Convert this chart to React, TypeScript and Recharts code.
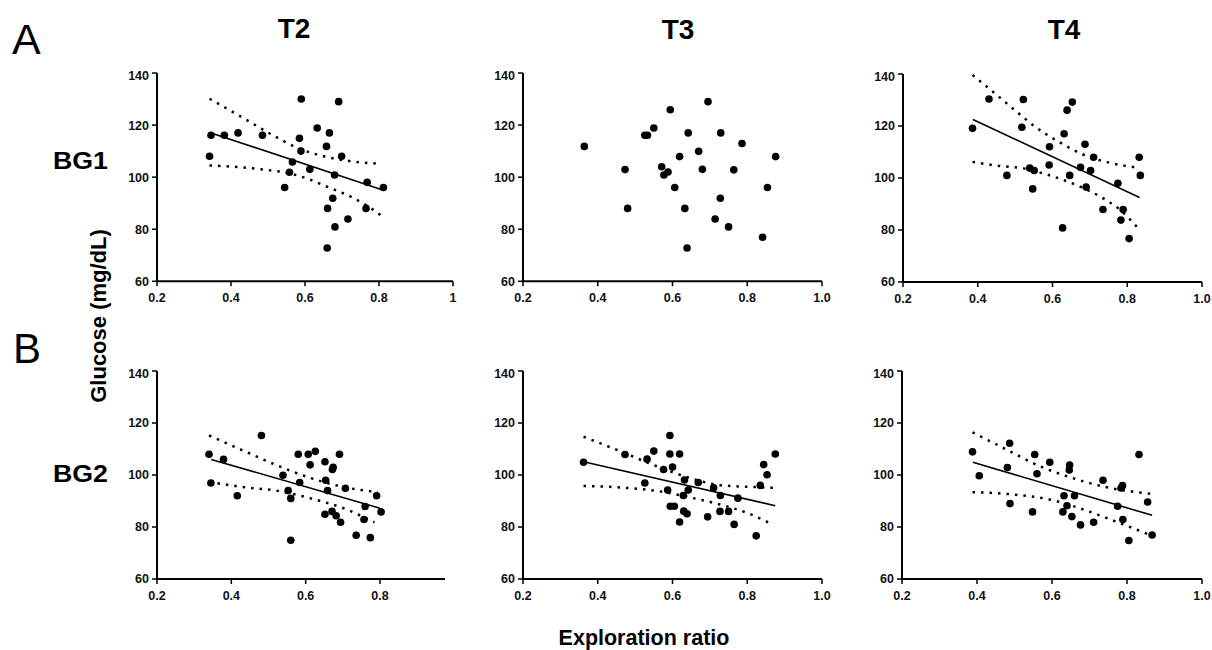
import { ComposedChart, Scatter, Line, XAxis, YAxis } from 'recharts';

type XY = [number, number];

// ---- T2 / BG1 ----
const t2bg1Points: XY[] = [
  [0.342, 108], [0.346, 116.1], [0.382, 116.1], [0.419, 117], [0.485, 116.1],
  [0.545, 96], [0.558, 101.9], [0.566, 105.8], [0.585, 114.9], [0.589, 110],
  [0.59, 130], [0.613, 103], [0.633, 118.9], [0.658, 111.8], [0.666, 117],
  [0.66, 72.8], [0.661, 88], [0.675, 91.9], [0.68, 100.8], [0.681, 80.9],
  [0.691, 129], [0.699, 108], [0.716, 83.9], [0.765, 88], [0.768, 98], [0.812, 96],
];
const t2bg1Fit: XY[] = [[0.346, 117.0], [0.808, 95.2]];
const t2bg1Upper: XY[] = [
  [0.342, 130.1], [0.425, 123.4], [0.512, 116.2], [0.58, 111.2], [0.651, 108.0], [0.725, 106.1], [0.794, 105.2],
];
const t2bg1Lower: XY[] = [
  [0.342, 104.5], [0.416, 103.9], [0.489, 102.9], [0.553, 101.6], [0.607, 99.4], [0.662, 96.2], [0.725, 92.4], [0.78, 87.9], [0.805, 85.3],
];

// ---- T3 / BG1 (no fit drawn) ----
const t3bg1Points: XY[] = [
  [0.364, 111.8], [0.473, 102.9], [0.48, 88], [0.526, 116.1], [0.533, 116.1],
  [0.55, 118.9], [0.571, 104], [0.577, 100.8], [0.588, 102], [0.594, 125.9],
  [0.606, 96], [0.619, 107.9], [0.633, 88], [0.639, 72.8], [0.642, 117],
  [0.67, 109.9], [0.68, 103], [0.695, 129], [0.714, 83.9], [0.728, 91.9],
  [0.729, 117], [0.75, 80.9], [0.764, 102.8], [0.786, 112.9], [0.841, 76.9],
  [0.854, 96], [0.876, 107.9],
];

// ---- T4 / BG1 ----
const t4bg1Points: XY[] = [
  [0.386, 119.1], [0.43, 130.4], [0.478, 101], [0.518, 119.5], [0.522, 130.2],
  [0.539, 103.8], [0.547, 95.8], [0.551, 102.9], [0.591, 105], [0.592, 112],
  [0.627, 80.8], [0.631, 117], [0.639, 126.1], [0.646, 101], [0.653, 129.2],
  [0.675, 104.1], [0.687, 113], [0.69, 96.5], [0.702, 102.9], [0.71, 108],
  [0.735, 87.9], [0.775, 98], [0.783, 83.8], [0.789, 87.9], [0.805, 76.7],
  [0.832, 108], [0.835, 101],
];
const t4bg1Fit: XY[] = [[0.387, 122.5], [0.833, 92.5]];
const t4bg1Upper: XY[] = [
  [0.386, 139.6], [0.443, 132.9], [0.499, 126.1], [0.554, 119.7], [0.617, 113.9], [0.679, 109.2], [0.746, 106.1], [0.822, 104.1],
];
const t4bg1Lower: XY[] = [
  [0.386, 106.2], [0.46, 104.6], [0.523, 103.7], [0.576, 101.7], [0.626, 99.4], [0.675, 96.6], [0.728, 92.8], [0.782, 87.6], [0.826, 81.2],
];

// ---- T2 / BG2 ----
const t2bg2Points: XY[] = [
  [0.34, 108], [0.345, 96.9], [0.379, 106], [0.416, 92], [0.481, 115.2],
  [0.539, 99.9], [0.553, 94], [0.56, 91], [0.56, 74.9], [0.584, 97.1],
  [0.58, 108], [0.607, 108], [0.612, 103.9], [0.626, 109.1], [0.652, 105.1],
  [0.654, 98], [0.674, 103], [0.672, 102.1], [0.691, 108], [0.659, 94],
  [0.652, 84.9], [0.671, 86], [0.682, 84.3], [0.694, 81.8], [0.707, 94.9],
  [0.736, 76.8], [0.76, 87.9], [0.757, 82.9], [0.774, 75.9], [0.791, 92], [0.803, 85.8],
];
const t2bg2Fit: XY[] = [[0.346, 106.0], [0.8, 87.2]];
const t2bg2Upper: XY[] = [
  [0.34, 115.2], [0.427, 109.7], [0.516, 104.1], [0.606, 99.2], [0.695, 95.6], [0.794, 93.4],
];
const t2bg2Lower: XY[] = [
  [0.34, 97.3], [0.436, 95.3], [0.525, 93.9], [0.619, 90.8], [0.713, 86.6], [0.785, 81.8],
];

// ---- T3 / BG2 ----
const t3bg2Points: XY[] = [
  [0.362, 104.9], [0.473, 107.9], [0.526, 96.9], [0.532, 106.1], [0.55, 109.2],
  [0.576, 102.1], [0.6, 103.1], [0.593, 108.1], [0.593, 115.2], [0.619, 108.1],
  [0.587, 94.2], [0.594, 88], [0.605, 88], [0.619, 81.9], [0.632, 98.1],
  [0.629, 92.1], [0.63, 86.1], [0.639, 85.1], [0.642, 94.2], [0.669, 97.1],
  [0.694, 83.9], [0.71, 95.1], [0.728, 92.1], [0.727, 86], [0.75, 86],
  [0.765, 81], [0.775, 91.1], [0.824, 76.6], [0.835, 96], [0.844, 104],
  [0.853, 100.1], [0.875, 108.1],
];
const t3bg2Fit: XY[] = [[0.362, 105.1], [0.875, 88.2]];
const t3bg2Upper: XY[] = [
  [0.362, 114.7], [0.454, 109.5], [0.543, 104.2], [0.637, 99.3], [0.726, 96.1], [0.798, 95.5], [0.869, 95.1],
];
const t3bg2Lower: XY[] = [
  [0.362, 95.8], [0.459, 95.2], [0.566, 93.7], [0.646, 91.4], [0.726, 88.7], [0.807, 85.0], [0.856, 81.8],
];

// ---- T4 / BG2 ----
const t4bg2Points: XY[] = [
  [0.388, 108.9], [0.406, 99.7], [0.481, 102.9], [0.487, 112.2], [0.488, 89],
  [0.548, 85.8], [0.554, 107.9], [0.56, 100.5], [0.594, 104.9], [0.629, 85.8],
  [0.632, 92], [0.64, 88.2], [0.647, 103.8], [0.646, 101.9], [0.66, 92],
  [0.653, 84], [0.676, 80.8], [0.711, 81.8], [0.736, 98], [0.775, 88],
  [0.784, 95], [0.788, 95.9], [0.789, 82.9], [0.805, 74.8], [0.832, 107.9],
  [0.855, 89.6], [0.867, 76.9],
];
const t4bg2Fit: XY[] = [[0.389, 104.9], [0.867, 84.5]];
const t4bg2Upper: XY[] = [
  [0.388, 116.4], [0.476, 110.0], [0.564, 103.6], [0.653, 98.9], [0.742, 95.4], [0.862, 92.8],
];
const t4bg2Lower: XY[] = [
  [0.388, 93.4], [0.489, 92.6], [0.596, 90.5], [0.676, 87.1], [0.756, 82.9], [0.862, 76.9],
];

const yTicks = [60, 80, 100, 120, 140];
const xTicksFull = [0.2, 0.4, 0.6, 0.8, 1.0];
const xTicksShort = [0.2, 0.4, 0.6, 0.8];

const FONT = '"Liberation Sans", Arial, Helvetica, sans-serif';
const toObj = (arr: XY[]) => arr.map(([x, y]) => ({ x, y }));

const Dot = (p: any) => <circle cx={p.cx} cy={p.cy} r={3.8} fill="#000" />;

interface PanelProps {
  left: number;
  top: number;
  w: number;
  h: number;
  xMax: number;
  xTicks: number[];
  fmt: (v: number) => string;
  points: XY[];
  fit?: XY[];
  upper?: XY[];
  lower?: XY[];
}

const YW = 45;
const XH = 30;
const MT = 5;
const MR = 12;

function Panel({ left, top, w, h, xMax, xTicks, fmt, points, fit, upper, lower }: PanelProps) {
  const tick = { fill: '#111', fontSize: 12.5, fontWeight: 700, fontFamily: FONT };
  return (
    <div style={{ position: 'absolute', left: left - YW, top: top - MT }}>
      <ComposedChart
        width={YW + w + MR}
        height={MT + h + XH}
        margin={{ top: MT, right: MR, bottom: 0, left: 0 }}
      >
        <XAxis
          type="number"
          dataKey="x"
          domain={[0.2, xMax]}
          ticks={xTicks}
          tickFormatter={fmt}
          allowDataOverflow
          height={XH}
          tick={tick}
          tickSize={5}
          tickMargin={7}
          axisLine={{ stroke: '#000', strokeWidth: 2 }}
          tickLine={{ stroke: '#000', strokeWidth: 1.5 }}
        />
        <YAxis
          type="number"
          dataKey="y"
          domain={[60, 140]}
          ticks={yTicks}
          allowDataOverflow
          width={YW}
          tick={tick}
          tickSize={5}
          tickMargin={3}
          axisLine={{ stroke: '#000', strokeWidth: 2 }}
          tickLine={{ stroke: '#000', strokeWidth: 1.5 }}
        />
        {upper && (
          <Line data={toObj(upper)} dataKey="y" type="monotone" stroke="#000" strokeWidth={2.5}
            strokeDasharray="2.5 6" dot={false} activeDot={false} isAnimationActive={false} />
        )}
        {lower && (
          <Line data={toObj(lower)} dataKey="y" type="monotone" stroke="#000" strokeWidth={2.5}
            strokeDasharray="2.5 6" dot={false} activeDot={false} isAnimationActive={false} />
        )}
        {fit && (
          <Line data={toObj(fit)} dataKey="y" type="linear" stroke="#000" strokeWidth={1.6}
            dot={false} activeDot={false} isAnimationActive={false} />
        )}
        <Scatter data={toObj(points)} dataKey="y" shape={Dot} isAnimationActive={false} />
      </ComposedChart>
    </div>
  );
}

const fmtT2 = (v: number) => (v === 1 ? '1' : v.toFixed(1));
const fmt1 = (v: number) => v.toFixed(1);

export default function App() {
  const bold = { fontFamily: FONT, fontWeight: 700, fill: '#000' } as const;
  return (
    <div style={{ position: 'absolute', left: 0, top: 0, width: 1212, height: 650, background: '#fff' }}>
      <Panel left={157} top={72.7} w={296} h={208.3} xMax={1} xTicks={xTicksFull} fmt={fmtT2}
        points={t2bg1Points} fit={t2bg1Fit} upper={t2bg1Upper} lower={t2bg1Lower} />
      <Panel left={523.3} top={72.7} w={299} h={208.3} xMax={1} xTicks={xTicksFull} fmt={fmt1}
        points={t3bg1Points} />
      <Panel left={902.5} top={73.5} w={299} h={208} xMax={1} xTicks={xTicksFull} fmt={fmt1}
        points={t4bg1Points} fit={t4bg1Fit} upper={t4bg1Upper} lower={t4bg1Lower} />
      <Panel left={157.3} top={370.6} w={288} h={208} xMax={0.975} xTicks={xTicksShort} fmt={fmt1}
        points={t2bg2Points} fit={t2bg2Fit} upper={t2bg2Upper} lower={t2bg2Lower} />
      <Panel left={523.3} top={370.6} w={299} h={208} xMax={1} xTicks={xTicksFull} fmt={fmt1}
        points={t3bg2Points} fit={t3bg2Fit} upper={t3bg2Upper} lower={t3bg2Lower} />
      <Panel left={901.7} top={370.6} w={300} h={208} xMax={1} xTicks={xTicksFull} fmt={fmt1}
        points={t4bg2Points} fit={t4bg2Fit} upper={t4bg2Upper} lower={t4bg2Lower} />

      <svg width={1212} height={650} style={{ position: 'absolute', left: 0, top: 0, pointerEvents: 'none' }}>
        <text x={12} y={54} fontFamily={FONT} fontSize={43} fill="#000">A</text>
        <text x={13} y={363} fontFamily={FONT} fontSize={42} fill="#000">B</text>
        <text x={294} y={38} textAnchor="middle" fontSize={28} {...bold}>T2</text>
        <text x={678} y={39} textAnchor="middle" fontSize={28} {...bold}>T3</text>
        <text x={1064} y={39} textAnchor="middle" fontSize={28} {...bold}>T4</text>
        <text x={53} y={169} fontSize={23} textLength={55} lengthAdjust="spacingAndGlyphs" {...bold}>BG1</text>
        <text x={53} y={482} fontSize={23} textLength={55} lengthAdjust="spacingAndGlyphs" {...bold}>BG2</text>
        <text x={106} y={316} transform="rotate(-90 106 316)" textAnchor="middle" fontSize={22} {...bold}>
          Glucose (mg/dL)
        </text>
        <text x={644} y={645} textAnchor="middle" fontSize={21.5} {...bold}>Exploration ratio</text>
      </svg>
    </div>
  );
}
